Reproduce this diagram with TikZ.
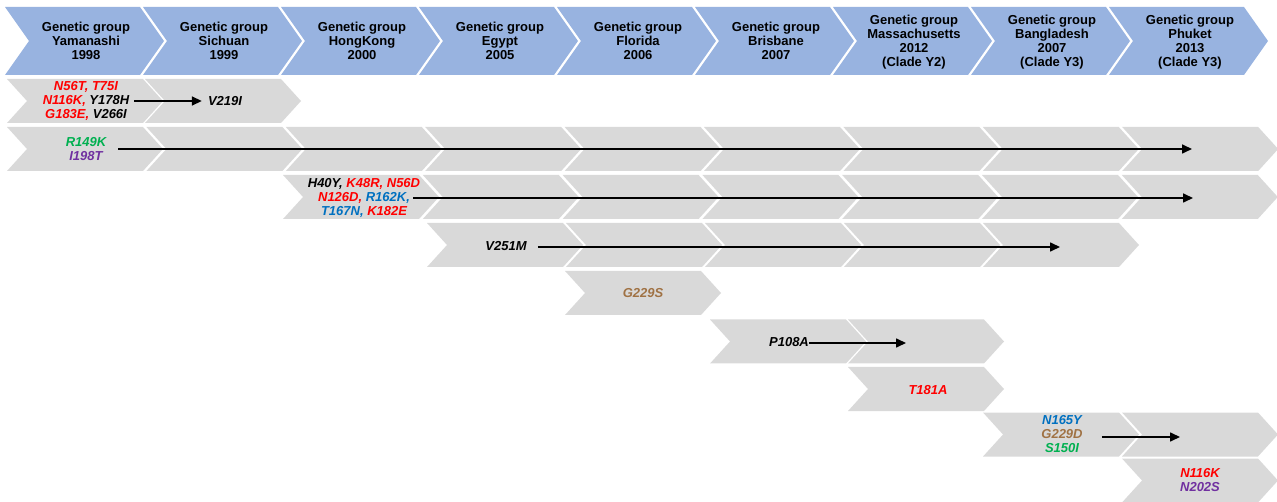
\documentclass[tikz,border=0pt]{standalone}
\usepackage{fontspec}
\setmainfont{Liberation Sans}
\usetikzlibrary{arrows.meta}

\definecolor{hdrblue}{RGB}{152,179,224}
\definecolor{rowgray}{RGB}{217,217,217}
\definecolor{mred}{RGB}{255,0,0}
\definecolor{mgreen}{RGB}{0,176,80}
\definecolor{mpurple}{RGB}{112,48,160}
\definecolor{mblue}{RGB}{0,112,192}
\definecolor{mbrown}{RGB}{160,114,68}

\tikzset{
  hdr/.style={align=center, font=\fontsize{13}{14}\selectfont\bfseries, inner sep=0pt},
  mut/.style={align=center, font=\fontsize{13}{14}\selectfont\bfseries\itshape, inner sep=3pt},
  arr/.style={line width=1.6pt, -{Triangle[length=10pt,width=9pt]}},
}

% chevron: colour, left x, top y, height, notch depth, flat width
\newcommand\chv[6]{%
  \fill[#1] ({#2},{#3}) -- ({#2+#6},{#3}) -- ({#2+#6+#5},{#3+#4/2})
    -- ({#2+#6},{#3+#4}) -- ({#2},{#3+#4}) -- ({#2+#5},{#3+#4/2}) -- cycle;}

\begin{document}
\begin{tikzpicture}[x=1pt,y=-1pt]
\useasboundingbox (0,0) rectangle (1277,502);
\clip (0,0) rectangle (1277,502);

% header chevrons
\foreach \k in {0,...,8} {\chv{hdrblue}{5+138*\k}{7}{68}{24}{135}}

% mutation rows
\foreach \x in {7,145} {\chv{rowgray}{\x}{79}{44}{20}{136}}
\foreach \k in {0,...,8} {\chv{rowgray}{7+139.4*\k}{127}{44}{20}{136}}
\foreach \k in {0,...,6} {\chv{rowgray}{283+139.8*\k}{175}{44}{20}{136}}
\foreach \k in {0,...,4} {\chv{rowgray}{427+139*\k}{223}{44}{20}{136}}
\chv{rowgray}{565}{271}{44}{20}{136}
\foreach \x in {710,848} {\chv{rowgray}{\x}{319.5}{44}{20}{136}}
\chv{rowgray}{848}{367}{44}{20}{136}
\foreach \x in {983,1122} {\chv{rowgray}{\x}{412.5}{44}{20}{136}}
\chv{rowgray}{1122}{458.5}{44}{20}{136}

% header labels
\node[hdr] (h0) at (86,41)  {Genetic group\\Yamanashi\\1998};
\node[hdr] (h1) at (224,41) {Genetic group\\Sichuan\\1999};
\node[hdr] (h2) at (362,41) {Genetic group\\HongKong\\2000};
\node[hdr] (h3) at (500,41) {Genetic group\\Egypt\\2005};
\node[hdr] (h4) at (638,41) {Genetic group\\Florida\\2006};
\node[hdr] (h5) at (776,41) {Genetic group\\Brisbane\\2007};
\node[hdr] (h6) at (914,42) {Genetic group\\Massachusetts\\2012\\(Clade Y2)};
\node[hdr] (h7) at (1052,42) {Genetic group\\Bangladesh\\2007\\(Clade Y3)};
\node[hdr] (h8) at (1190,42) {Genetic group\\Phuket\\2013\\(Clade Y3)};

% mutations
\node[mut] (m1) at (86,101) {\textcolor{mred}{N56T, T75I}\\\textcolor{mred}{N116K,} Y178H\\\textcolor{mred}{G183E,} V266I};
\node[mut] (m1b) at (225,101) {V219I};
\draw[arr, shorten <=2pt, shorten >=3pt] (m1.east) -- (m1b.west);

\node[mut] (m2) at (86,149) {\textcolor{mgreen}{R149K}\\\textcolor{mpurple}{I198T}};
\coordinate (e2) at (1192,149);
\draw[arr, shorten <=9pt] (m2.east |- e2) -- (e2);

\node[mut] (m3a) at (364,184) {H40Y, \textcolor{mred}{K48R, N56D}};
\node[mut] (m3b) at (364,198) {\textcolor{mred}{N126D,} \textcolor{mblue}{R162K,}};
\node[mut] (m3c) at (364,212) {\textcolor{mblue}{T167N,} \textcolor{mred}{K182E}};
\coordinate (e3) at (1193,198);
\draw[arr] (m3b.east |- e3) -- (e3);

\node[mut] (m4) at (506,246) {V251M};
\coordinate (e4) at (1060,247);
\draw[arr, shorten <=8pt] (m4.east |- e4) -- (e4);

\node[mut, text=mbrown] (m5) at (643,293) {G229S};

\node[mut] (m6) at (789,342) {P108A};
\coordinate (e6) at (906,343);
\draw[arr, shorten <=-3pt] (m6.east |- e6) -- (e6);

\node[mut, text=mred] (m7) at (928,390) {T181A};

\node[mut] (m8) at (1062,434) {\textcolor{mblue}{N165Y}\\\textcolor{mbrown}{G229D}\\\textcolor{mgreen}{S150I}};
\coordinate (e8) at (1180,437);
\draw[arr, shorten <=16pt] (m8.east |- e8) -- (e8);

\node[mut] (m9) at (1200,480) {\textcolor{mred}{N116K}\\\textcolor{mpurple}{N202S}};
\end{tikzpicture}
\end{document}
